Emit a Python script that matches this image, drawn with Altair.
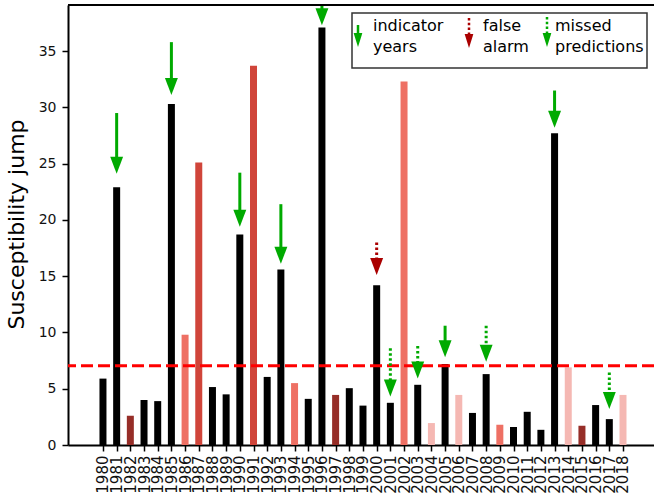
import altair as alt
import pandas as pd

# ---------------- data ----------------
years = list(range(1980, 2019))
values = [5.9, 22.9, 2.6, 4.0, 3.9, 30.3, 9.8, 25.1, 5.15, 4.5,
          18.7, 33.7, 6.05, 15.6, 5.5, 4.1, 37.1, 4.45, 5.05, 3.5,
          14.2, 3.75, 32.3, 5.35, 1.95, 7.2, 4.45, 2.85, 6.3, 1.8,
          1.6, 2.95, 1.35, 27.7, 6.9, 1.7, 3.55, 2.3, 4.45]
groups = ["k", "k", "b", "k", "k", "k", "s", "r", "k", "k",
          "k", "r", "k", "k", "s", "k", "k", "b", "k", "k",
          "k", "k", "s", "k", "p", "k", "p", "k", "k", "s",
          "k", "k", "k", "k", "p", "b", "k", "k", "p"]
threshold = [7.05]

arrow_years = [1981, 1985, 1990, 1993, 1996, 2005, 2013, 2000, 2001, 2003, 2008, 2017]
arrow_tail = [29.5, 35.8, 24.2, 21.4, 43.0, 10.6, 31.5, 18.0, 8.6, 8.8, 10.6, 6.45]
arrow_tip = [24.1, 31.1, 19.4, 16.1, 37.3, 7.8, 28.2, 15.1, 4.3, 5.9, 7.4, 3.2]
arrow_kind = ["hit"] * 7 + ["false"] + ["missed"] * 4

y_ticks = [0, 5, 10, 15, 20, 25, 30, 35]

bars_df = pd.DataFrame({"year": years, "value": values, "group": groups})
arrows_df = pd.DataFrame({"year": arrow_years, "tail": arrow_tail,
                          "tip": arrow_tip, "kind": arrow_kind})
thr_df = pd.DataFrame({"t": threshold})
one = pd.DataFrame({"a": [0]})

FONT = "DejaVu Sans"
W, H = 586, 440
GREEN = "#00aa00"
DARKRED = "#aa0000"
HEAD = "M-0.76,-1L0.76,-1L0,1Z"
HEAD_SMALL = "M-0.62,-1L0.62,-1L0,1Z"

xscale = alt.Scale(domain=[1977.81, 2019.90], nice=False, zero=False)
yscale = alt.Scale(domain=[0, 39.1], nice=False, zero=True)

xaxis = alt.Axis(values=years, format="d", labelAngle=270, labelFontSize=15,
                 labelFont=FONT, labelColor="#111", tickColor="black",
                 tickSize=6, tickWidth=1.5, domainColor="black", domainWidth=2,
                 grid=False, title=None, labelPadding=4, labelOverlap=False,
                 labelFlush=False, labelBound=False, tickCount=39)
yaxis = alt.Axis(values=y_ticks, labelFontSize=14, labelFont=FONT,
                 labelColor="#111", tickColor="black", tickSize=6,
                 tickWidth=1.5, domainColor="black", domainWidth=2, grid=False,
                 labelPadding=6, title="Susceptibility jump", titleFont=FONT,
                 titleFontSize=22, titleFontWeight="normal", titleColor="black",
                 titleAngle=270, titleX=-45, titleY=219, titleAlign="center",
                 titleBaseline="alphabetic")

X = alt.X("year:Q", scale=xscale, axis=xaxis)

bars = alt.Chart(bars_df).mark_bar(size=7).encode(
    x=X,
    y=alt.Y("value:Q", scale=yscale, axis=yaxis),
    color=alt.Color("group:N", legend=None,
                    scale=alt.Scale(domain=["k", "b", "r", "s", "p"],
                                    range=["#000000", "#962e28", "#d0453a",
                                           "#ee7064", "#f5b8b3"])),
)

thr = alt.Chart(thr_df).mark_rule(color="#ff0000", strokeDash=[12, 5],
                                  strokeWidth=3).encode(
    y=alt.Y("t:Q", scale=yscale, axis=yaxis))


def arrows(kind, color, dotted):
    base = alt.Chart(arrows_df).transform_filter(alt.datum.kind == kind)
    kw = dict(strokeWidth=3, clip=True, y2Offset=-12, color=color)
    if dotted:
        kw["strokeDash"] = [2.6, 2.4]
    shaft = base.mark_rule(**kw).encode(
        x=X, y=alt.Y("tail:Q", scale=yscale, axis=yaxis), y2="tip:Q")
    head = base.mark_point(shape=HEAD, size=289, filled=True, opacity=1,
                           strokeWidth=0, yOffset=-8.5, color=color).encode(
        x=X, y=alt.Y("tip:Q", scale=yscale, axis=yaxis))
    return [shaft, head]


top_spine = alt.Chart(one).mark_rule(color="black", strokeWidth=2).encode(
    x=alt.value(0), x2=alt.value(W), y=alt.value(0))

# ---------------- legend box ----------------
box = alt.Chart(one).mark_rect(fill="white", stroke="#333333",
                               strokeWidth=1.5).encode(
    x=alt.value(284), x2=alt.value(579), y=alt.value(8), y2=alt.value(63))


def legend_arrow(x, y_tail, y_tip, color, dotted):
    kw = dict(color=color, strokeWidth=2.5)
    if dotted:
        kw["strokeDash"] = [2.4, 2.4]
    shaft = alt.Chart(one).mark_rule(**kw).encode(
        x=alt.value(x), y=alt.value(y_tail), y2=alt.value(y_tip - 10))
    head = alt.Chart(one).mark_point(shape=HEAD_SMALL, size=196, filled=True,
                                     opacity=1, strokeWidth=0,
                                     color=color).encode(
        x=alt.value(x), y=alt.value(y_tip - 7))
    return [shaft, head]


def legend_text(x, lines):
    return alt.Chart(one).mark_text(align="left", baseline="alphabetic",
                                    fontSize=16, lineHeight=21, font=FONT,
                                    color="black").encode(
        x=alt.value(x), y=alt.value(26), text=alt.value(lines))


layers = [bars, thr]
layers += arrows("hit", GREEN, False)
layers += arrows("false", DARKRED, True)
layers += arrows("missed", GREEN, True)
layers += [top_spine, box]
layers += legend_arrow(290, 20, 42, GREEN, False)
layers += [legend_text(305, ["indicator", "years"])]
layers += legend_arrow(401, 13, 43, DARKRED, True)
layers += [legend_text(415, ["false", "alarm"])]
layers += legend_arrow(479, 12, 42, GREEN, True)
layers += [legend_text(487, ["missed", "predictions"])]

chart = alt.layer(*layers).properties(
    width=W, height=H,
    autosize=alt.AutoSizeParams(type="none"),
    padding={"left": 68, "top": 5, "right": 0, "bottom": 55},
).configure_view(stroke=None)

chart.save("out.html", embed_options={"renderer": "svg", "actions": False})
